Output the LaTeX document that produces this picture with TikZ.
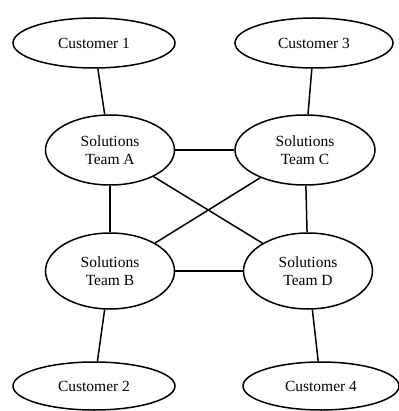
\documentclass[tikz,border=0pt]{standalone}
\usepackage{fontspec}
\setmainfont{Liberation Serif}
\usetikzlibrary{shapes.geometric}
\begin{document}
\begin{tikzpicture}[x=1pt,y=-1pt,
  ell/.style={draw, ellipse, line width=1.5pt, inner sep=0pt, align=center,
    font=\fontsize{15.5}{17.5}\selectfont},
  cust/.style={ell, minimum width=162pt, minimum height=50pt},
  team/.style={ell, minimum width=129pt, minimum height=70pt},
  link/.style={line width=1.5pt}]
\useasboundingbox (0,0) rectangle (398,411);
\node[cust] (c1) at (94,43) {Customer 1};
\node[cust, minimum width=158pt] (c3) at (314,43) {Customer 3};
\node[team] (a) at (110,150) {Solutions\\Team A};
\node[team, minimum width=140pt] (c) at (305,150) {Solutions\\Team C};
\node[team, minimum height=76pt] (b) at (110,271) {Solutions\\Team B};
\node[team, minimum height=76pt] (d) at (308,271) {Solutions\\Team D};
\node[cust, minimum height=48pt] (c2) at (94,386) {Customer 2};
\node[cust, minimum width=156pt, minimum height=48pt] (c4) at (321,386) {Customer 4};
\draw[link] (c1) -- (a);
\draw[link] (c3) -- (c);
\draw[link] (a) -- (c);
\draw[link] (a) -- (b);
\draw[link] (c) -- (d);
\draw[link] (b) -- (d);
\draw[link] (a) -- (d);
\draw[link] (c) -- (b);
\draw[link] (b) -- (c2);
\draw[link] (d) -- (c4);
\end{tikzpicture}
\end{document}
